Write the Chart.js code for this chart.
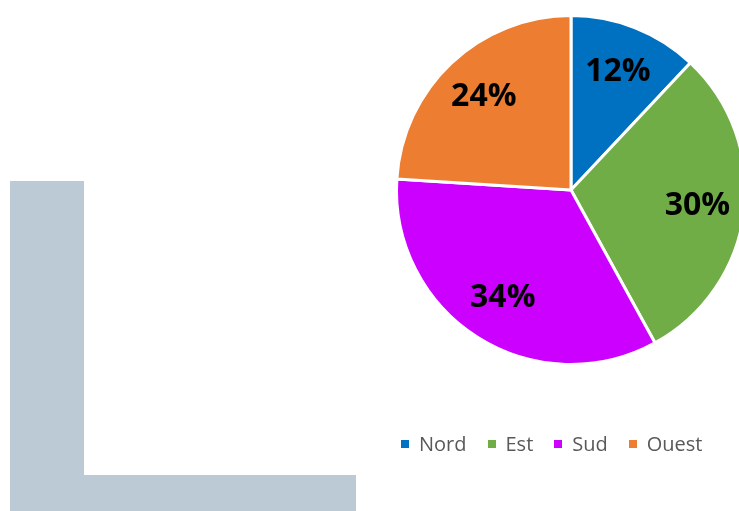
<!DOCTYPE html>
<html>
<head>
<meta charset="utf-8">
<script src="https://cdn.jsdelivr.net/npm/chart.js@4/dist/chart.umd.min.js"></script>
<style>
    html, body { margin: 0; padding: 0; background: #fff; }
    #wrap { position: relative; width: 739px; height: 511px; overflow: hidden; }
    #pie { position: absolute; left: 0; top: 0; }
    .deco { position: absolute; background: #bccad6; }
    #legend { position: absolute; left: 401px; top: 434px; display: flex; align-items: center;
        font-family: "Open Sans", sans-serif; font-size: 20px; line-height: 20px; color: #595959; }
    #legend .item { display: flex; align-items: center; margin-right: 21px; }
    #legend .box { width: 8px; height: 8px; margin-right: 10px; }
</style>
</head>
<body>
<div id="wrap">
    <div class="deco" style="left:10px;top:181px;width:74px;height:330px;"></div>
    <div class="deco" style="left:84px;top:475px;width:272px;height:36px;"></div>
    <canvas id="pie" width="767" height="511"></canvas>
    <div id="legend"></div>
</div>
<script>
// Données
const categories = ["Nord", "Est", "Sud", "Ouest"];
const values = [12, 30, 34, 24];
const colors = ["#0070c0", "#70ad47", "#cc00ff", "#ed7d31"];

// Étiquettes en pourcentage dans les parts
const pctLabels = {
    id: "pctLabels",
    afterDatasetsDraw(chart) {
        const ctx = chart.ctx;
        const total = values.reduce((a, b) => a + b, 0);
        const arcs = chart.getDatasetMeta(0).data;
        ctx.save();
        ctx.font = "bold 32px 'Open Sans', sans-serif";
        ctx.fillStyle = "#000";
        ctx.textAlign = "center";
        ctx.textBaseline = "middle";
        arcs.forEach((arc, i) => {
            const { x, y, startAngle, endAngle, outerRadius } = arc.getProps(["x", "y", "startAngle", "endAngle", "outerRadius"], true);
            const mid = (startAngle + endAngle) / 2;
            const r = outerRadius * 0.73;
            ctx.fillText(Math.round(values[i] / total * 100) + "%", x + Math.cos(mid) * r, y + Math.sin(mid) * r);
        });
        ctx.restore();
    }
};

new Chart(document.getElementById("pie"), {
    type: "pie",
    data: {
        labels: categories,
        datasets: [{
            data: values,
            backgroundColor: colors,
            borderColor: "#ffffff",
            borderWidth: 3,
            hoverOffset: 0
        }]
    },
    options: {
        responsive: false,
        animation: false,
        devicePixelRatio: 1,
        layout: { padding: { left: 395, top: 14, right: 20, bottom: 145 } },
        plugins: {
            legend: { display: false },
            tooltip: { enabled: false }
        }
    },
    plugins: [pctLabels]
});

// Légende
document.getElementById("legend").innerHTML = categories.map((c, i) =>
    `<div class="item"><span class="box" style="background:${colors[i]}"></span>${c}</div>`
).join("");
</script>
</body>
</html>
